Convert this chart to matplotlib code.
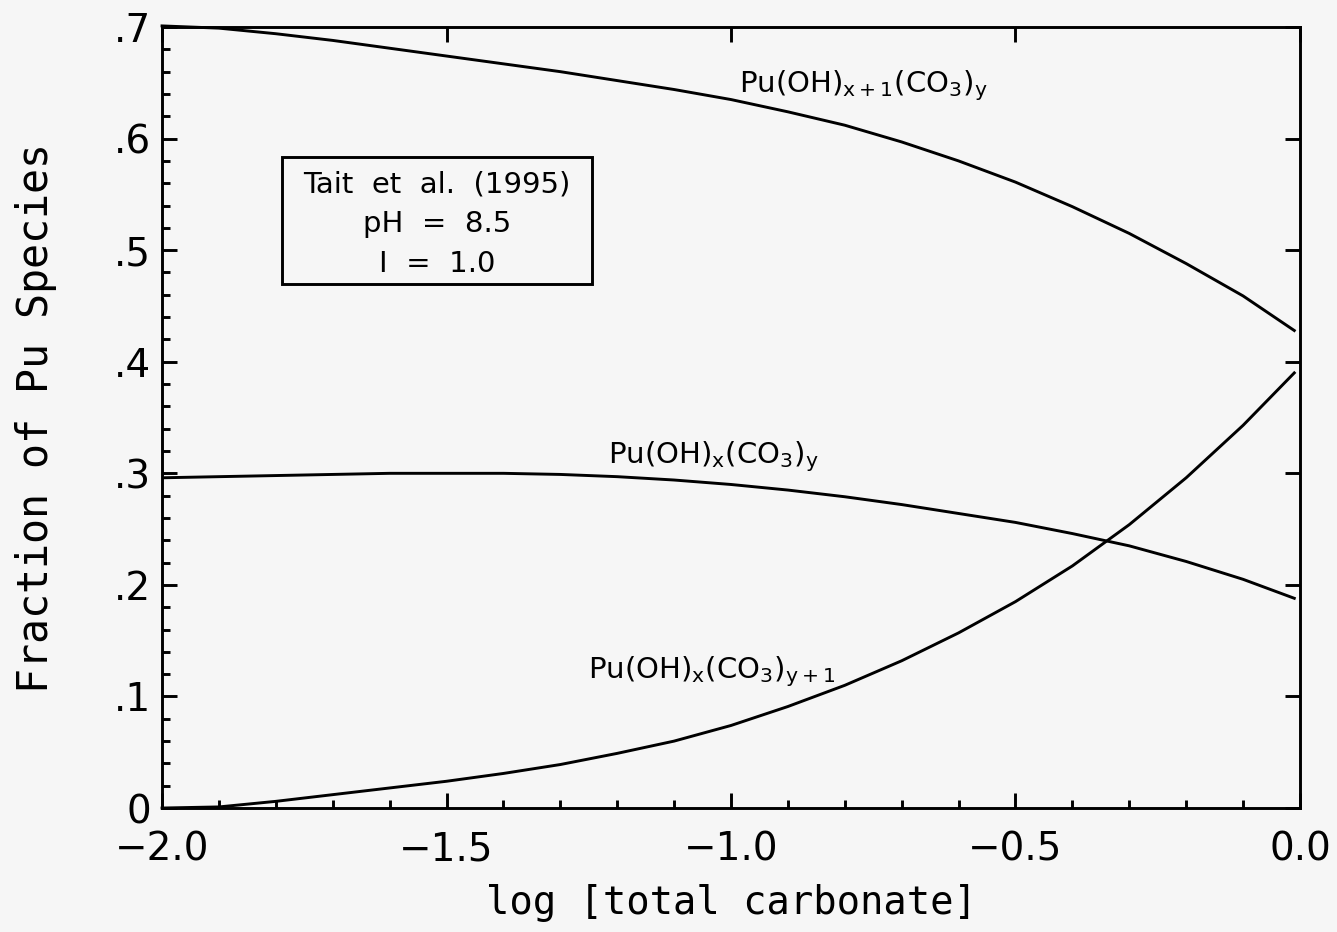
import numpy as np
import matplotlib
matplotlib.use("Agg")
import matplotlib.pyplot as plt
from matplotlib.patches import Rectangle
from matplotlib.ticker import MultipleLocator

# log [total carbonate]
log_co3 = [-2.0, -1.9, -1.8, -1.7, -1.6, -1.5, -1.4, -1.3, -1.2, -1.1, -1.0,
           -0.9, -0.8, -0.7, -0.6, -0.5, -0.4, -0.3, -0.2, -0.1, -0.01]

# fraction of Pu species
pu_oh_x1_co3_y = [0.701, 0.699, 0.694, 0.688, 0.681, 0.674, 0.667, 0.660, 0.652,
                  0.644, 0.635, 0.624, 0.612, 0.597, 0.580, 0.561, 0.539, 0.515,
                  0.488, 0.459, 0.428]
pu_oh_x_co3_y = [0.296, 0.297, 0.298, 0.299, 0.300, 0.300, 0.300, 0.299, 0.297,
                 0.294, 0.290, 0.285, 0.279, 0.272, 0.264, 0.256, 0.246, 0.235,
                 0.221, 0.205, 0.188]
pu_oh_x_co3_y1 = [0.000, 0.001, 0.006, 0.012, 0.018, 0.024, 0.031, 0.039, 0.049,
                  0.060, 0.074, 0.091, 0.110, 0.132, 0.157, 0.185, 0.217, 0.254,
                  0.296, 0.343, 0.390]

x_ticks = [-2.0, -1.5, -1.0, -0.5, 0.0]
x_tick_labels = ["\u22122.0", "\u22121.5", "\u22121.0", "\u22120.5", "0.0"]
y_ticks = [0, 0.1, 0.2, 0.3, 0.4, 0.5, 0.6, 0.7]
y_tick_labels = ["0", ".1", ".2", ".3", ".4", ".5", ".6", ".7"]

bg = "#f6f6f6"
lw = 2.1

fig = plt.figure(figsize=(13.37, 9.32), dpi=100, facecolor=bg)
ax = fig.add_axes([0.1212, 0.133, 0.8511, 0.838], facecolor=bg)

ax.plot(log_co3, pu_oh_x1_co3_y, color="black", lw=lw, clip_on=False,
        solid_joinstyle="round")
ax.plot(log_co3, pu_oh_x_co3_y, color="black", lw=lw, solid_joinstyle="round")
ax.plot(log_co3, pu_oh_x_co3_y1, color="black", lw=lw, clip_on=False,
        solid_joinstyle="round")

ax.set_xlim(-2.0, 0.0)
ax.set_ylim(0, 0.7)

ax.set_xticks(x_ticks)
ax.set_xticklabels(x_tick_labels)
ax.set_yticks(y_ticks)
ax.set_yticklabels(y_tick_labels)
ax.xaxis.set_minor_locator(MultipleLocator(0.1))
ax.yaxis.set_minor_locator(MultipleLocator(0.02))

ax.tick_params(which="both", direction="in", top=True, right=True,
               width=lw, labelsize=28, color="black")
ax.tick_params(which="major", length=11)
ax.tick_params(which="minor", length=5.5, top=False, right=False)
ax.tick_params(axis="x", which="major", pad=16)
ax.tick_params(axis="y", which="major", pad=8)

for s in ax.spines.values():
    s.set_linewidth(lw)

ax.set_xlabel("log [total carbonate]", fontsize=28, family="DejaVu Sans Mono")
ax.xaxis.set_label_coords(0.5, -0.097)
ax.set_ylabel("Fraction of Pu Species", fontsize=30, family="DejaVu Sans Mono")
ax.yaxis.set_label_coords(-0.0923, 0.5)

# curve labels
lbl = dict(fontsize=21, va="baseline", ha="left")
ax.text(-0.986, 0.642, r"$\mathregular{Pu(OH)_{x+1}(CO_3)_y}$", **lbl)
ax.text(-1.216, 0.309, r"$\mathregular{Pu(OH)_x(CO_3)_y}$", **lbl)
ax.text(-1.251, 0.1165, r"$\mathregular{Pu(OH)_x(CO_3)_{y+1}}$", **lbl)

# conditions box
ax.add_patch(Rectangle((0.1054, 0.671), 0.2724, 0.1626, transform=ax.transAxes,
                       fill=False, lw=lw, ec="black"))
box_lines = ["Tait  et  al.  (1995)", "pH  =  8.5", "I  =  1.0"]
for txt, yy in zip(box_lines, [0.7875, 0.7375, 0.6863]):
    ax.text(0.2417, yy, txt, transform=ax.transAxes, fontsize=21,
            ha="center", va="baseline")

fig.savefig("out.png", dpi=100, facecolor=bg)
